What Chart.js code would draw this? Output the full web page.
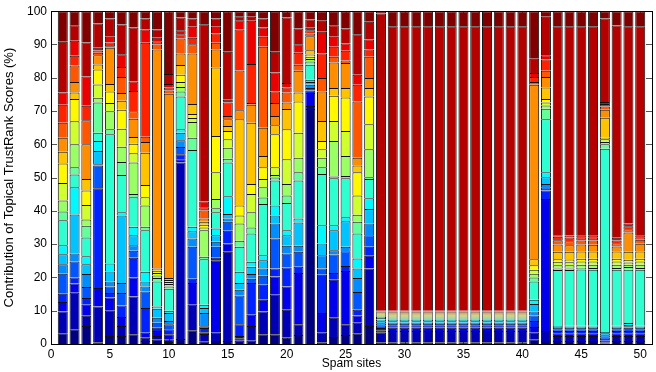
<!DOCTYPE html>
<html>
<head>
<meta charset="utf-8">
<script src="https://cdn.jsdelivr.net/npm/chart.js@4.4.1/dist/chart.umd.min.js"></script>
<style>
  html, body { margin: 0; padding: 0; background: #fff; }
  #wrap { width: 656px; height: 372px; }
</style>
</head>
<body>
<div id="wrap"><canvas id="topicChart" width="656" height="372"></canvas></div>
<script>
// Share (%) of each spam site's Topical TrustRank score coming from each of 20 topics,
// bottom topic first.
const site01 = [3.2, 6.6, 2.8, 2.5, 6.0, 2.9, 3.0, 2.7, 7.5, 2.6, 3.3, 5.3, 5.8, 3.6, 4.2, 4.5, 5.4, 3.7, 15.2, 9.2];
const site02 = [4.4, 11.0, 2.8, 1.8, 4.8, 2.4, 11.7, 8.2, 3.8, 2.2, 6.9, 6.9, 6.7, 2.0, 3.1, 5.0, 2.9, 4.5, 4.7, 4.2];
const site03 = [5.4, 3.1, 3.3, 2.0, 3.3, 3.9, 3.0, 2.4, 5.6, 3.5, 1.9, 4.4, 4.3, 3.5, 10.4, 7.2, 4.4, 8.8, 10.2, 9.4];
const site04 = [0.5, 10.8, 5.5, 30.0, 6.8, 0.4, 4.0, 3.0, 2.5, 9.1, 1.4, 4.0, 4.5, 1.5, 2.8, 0.7, 0.7, 0.8, 7.3, 3.7];
const site05 = [2.4, 7.6, 4.0, 1.3, 2.0, 1.5, 3.0, 2.4, 38.8, 1.5, 5.4, 2.5, 3.5, 2.2, 10.9, 0.5, 1.1, 1.7, 5.5, 2.2];
const site06 = [2.4, 3.0, 2.7, 3.5, 3.7, 3.0, 20.3, 1.0, 11.2, 3.9, 4.6, 5.4, 5.7, 2.7, 2.3, 4.8, 3.0, 3.9, 8.9, 4.0];
const site07 = [2.9, 11.4, 5.7, 5.9, 2.1, 1.7, 3.0, 2.5, 8.9, 1.0, 9.4, 2.8, 2.9, 2.0, 5.5, 2.2, 6.1, 2.9, 16.2, 4.9];
const site08 = [0.9, 1.0, 1.5, 7.4, 5.0, 1.5, 1.5, 2.9, 12.5, 1.0, 6.4, 2.5, 3.7, 9.7, 3.2, 1.6, 28.2, 4.0, 3.3, 2.2];
const site09 = [1.4, 1.0, 1.5, 1.0, 1.5, 1.5, 2.7, 0.7, 7.5, 1.0, 0.8, 0.7, 0.7, 0.7, 65.8, 1.5, 1.0, 1.0, 2.5, 5.5];
const site10 = [0.6, 0.8, 1.5, 1.5, 1.5, 1.0, 2.4, 0.7, 6.6, 0.7, 0.7, 0.6, 0.6, 0.6, 55.4, 1.0, 0.9, 1.0, 3.0, 18.9];
const site11 = [1.5, 53.0, 1.0, 1.5, 2.2, 2.0, 2.3, 1.0, 9.9, 1.5, 1.3, 1.5, 2.2, 2.9, 3.5, 4.5, 1.3, 1.2, 3.8, 1.9];
const site12 = [4.1, 7.7, 6.5, 1.3, 9.6, 2.5, 2.2, 1.3, 23.1, 3.7, 4.7, 1.2, 1.2, 3.0, 15.2, 2.8, 1.9, 3.3, 2.5, 2.2];
const site13 = [0.8, 2.2, 0.5, 1.3, 0.5, 4.0, 1.5, 1.0, 13.7, 0.7, 8.0, 0.8, 0.8, 0.9, 1.0, 2.4, 1.0, 1.7, 53.3, 3.9];
const site14 = [0.9, 2.5, 21.8, 0.7, 3.3, 1.5, 2.0, 2.0, 4.9, 1.2, 2.8, 8.0, 10.9, 20.6, 5.4, 2.0, 2.8, 2.0, 2.5, 2.2];
const site15 = [0.9, 26.8, 2.5, 3.8, 2.7, 1.0, 1.4, 5.3, 10.1, 1.2, 3.3, 2.5, 2.5, 1.5, 2.0, 1.0, 4.1, 0.8, 14.4, 12.2];
const site16 = [1.0, 0.7, 0.7, 3.5, 8.7, 1.7, 2.0, 3.4, 7.5, 1.8, 5.2, 2.4, 3.0, 25.9, 2.7, 12.0, 12.3, 2.8, 1.2, 1.5];
const site17 = [1.0, 4.4, 3.4, 9.5, 1.3, 1.4, 2.2, 1.5, 8.5, 1.8, 4.6, 5.5, 3.0, 18.4, 5.4, 0.5, 11.7, 13.0, 1.2, 1.7];
const site18 = [2.9, 6.9, 3.5, 4.5, 2.7, 2.2, 2.5, 1.5, 15.4, 1.9, 3.1, 2.5, 3.5, 3.4, 8.5, 24.3, 3.0, 2.8, 2.7, 2.2];
const site19 = [2.9, 11.9, 5.5, 2.4, 9.0, 4.5, 2.4, 3.0, 7.5, 0.9, 0.8, 2.3, 9.9, 2.7, 2.8, 3.9, 3.5, 5.7, 6.2, 12.2];
const site20 = [1.9, 8.4, 7.0, 5.7, 4.2, 2.3, 3.2, 1.5, 8.2, 2.2, 3.5, 7.4, 9.0, 6.1, 2.0, 3.0, 1.5, 1.3, 19.7, 1.9];
const site21 = [2.7, 3.2, 15.4, 1.9, 4.5, 1.8, 7.0, 1.2, 11.4, 2.5, 4.4, 7.5, 9.4, 2.7, 6.5, 1.8, 3.6, 2.6, 4.7, 5.2];
const site22 = [70.6, 0.9, 3.9, 0.8, 0.7, 1.0, 0.8, 0.7, 4.5, 1.0, 0.7, 0.7, 0.7, 1.3, 4.2, 0.8, 1.0, 0.7, 2.5, 2.5];
const site23 = [0.5, 2.9, 5.9, 11.5, 1.9, 4.0, 3.5, 5.5, 15.4, 2.0, 2.9, 2.5, 2.5, 6.0, 8.9, 4.0, 7.4, 6.5, 3.3, 2.9];
const site24 = [2.1, 5.8, 11.4, 2.0, 5.6, 1.3, 6.0, 1.5, 14.1, 0.5, 10.7, 6.0, 7.6, 2.3, 7.7, 1.7, 3.0, 3.0, 3.5, 4.2];
const site25 = [2.7, 3.2, 16.0, 1.5, 4.5, 1.3, 7.7, 1.2, 11.7, 0.7, 6.0, 7.5, 10.1, 2.8, 7.5, 0.8, 2.9, 2.2, 4.5, 5.2];
const site26 = [3.1, 3.3, 2.2, 1.7, 5.3, 4.2, 2.9, 3.0, 7.5, 3.5, 2.1, 5.8, 7.0, 2.0, 2.4, 16.9, 5.0, 3.0, 12.2, 6.9];
const site27 = [5.4, 17.3, 3.8, 2.7, 3.5, 3.5, 4.4, 3.2, 5.8, 0.5, 8.4, 7.5, 8.4, 2.5, 3.0, 6.4, 2.2, 3.0, 5.3, 3.2];
const site28 = [0.5, 3.0, 0.6, 0.7, 0.8, 0.6, 0.6, 0.5, 0.5, 0.4, 0.3, 0.3, 0.3, 0.3, 0.2, 0.2, 0.1, 0.1, 89.3, 0.7];
const site29 = [0.5, 3.4, 1.0, 0.7, 0.4, 0.4, 0.4, 0.5, 0.3, 0.3, 0.3, 0.3, 0.3, 0.3, 0.3, 0.2, 0.2, 0.2, 85.5, 4.5];
const site30 = [0.5, 3.4, 1.0, 0.7, 0.4, 0.4, 0.4, 0.5, 0.3, 0.3, 0.3, 0.3, 0.3, 0.3, 0.3, 0.2, 0.2, 0.2, 85.5, 4.5];
const site31 = [0.5, 3.4, 1.0, 0.7, 0.4, 0.4, 0.4, 0.5, 0.3, 0.3, 0.3, 0.3, 0.3, 0.3, 0.3, 0.2, 0.2, 0.2, 85.5, 4.5];
const site32 = [0.5, 3.4, 1.0, 0.7, 0.4, 0.4, 0.4, 0.5, 0.3, 0.3, 0.3, 0.3, 0.3, 0.3, 0.3, 0.2, 0.2, 0.2, 85.5, 4.5];
const site33 = [0.5, 3.4, 1.0, 0.7, 0.4, 0.4, 0.4, 0.5, 0.3, 0.3, 0.3, 0.3, 0.3, 0.3, 0.3, 0.2, 0.2, 0.2, 85.5, 4.5];
const site34 = [0.5, 3.4, 1.0, 0.7, 0.4, 0.4, 0.4, 0.5, 0.3, 0.3, 0.3, 0.3, 0.3, 0.3, 0.3, 0.2, 0.2, 0.2, 85.5, 4.5];
const site35 = [0.5, 3.4, 1.0, 0.7, 0.4, 0.4, 0.4, 0.5, 0.3, 0.3, 0.3, 0.3, 0.3, 0.3, 0.3, 0.2, 0.2, 0.2, 85.5, 4.5];
const site36 = [0.5, 3.4, 1.0, 0.7, 0.4, 0.4, 0.4, 0.5, 0.3, 0.3, 0.3, 0.3, 0.3, 0.3, 0.3, 0.2, 0.2, 0.2, 85.5, 4.5];
const site37 = [0.5, 3.4, 1.0, 0.7, 0.4, 0.4, 0.4, 0.5, 0.3, 0.3, 0.3, 0.3, 0.3, 0.3, 0.3, 0.2, 0.2, 0.2, 85.5, 4.5];
const site38 = [0.5, 3.4, 1.0, 0.7, 0.4, 0.4, 0.4, 0.5, 0.3, 0.3, 0.3, 0.3, 0.3, 0.3, 0.3, 0.2, 0.2, 0.2, 85.5, 4.5];
const site39 = [0.5, 3.4, 1.0, 0.7, 0.4, 0.4, 0.4, 0.5, 0.3, 0.3, 0.3, 0.3, 0.3, 0.3, 0.3, 0.2, 0.2, 0.2, 85.5, 4.5];
const site40 = [0.5, 3.4, 1.0, 0.7, 0.4, 0.4, 0.4, 0.5, 0.3, 0.3, 0.3, 0.3, 0.3, 0.3, 0.3, 0.2, 0.2, 0.2, 85.5, 4.5];
const site41 = [1.4, 2.0, 1.7, 1.8, 1.7, 1.2, 2.2, 1.3, 5.5, 1.2, 1.1, 1.2, 1.4, 1.8, 52.4, 0.8, 1.5, 1.2, 4.3, 14.3];
const site42 = [0.9, 3.0, 39.7, 2.5, 1.0, 1.0, 2.0, 1.5, 15.9, 3.2, 1.0, 0.9, 1.0, 3.5, 3.1, 1.9, 3.4, 1.3, 11.5, 1.7];
const site43 = [0.9, 1.5, 0.8, 0.7, 0.5, 0.4, 0.3, 0.3, 16.8, 0.5, 1.0, 1.0, 0.8, 2.2, 2.2, 1.3, 1.0, 0.5, 62.8, 4.5];
const site44 = [0.9, 1.5, 0.8, 0.7, 0.5, 0.4, 0.4, 0.3, 16.7, 0.5, 1.0, 0.9, 0.8, 2.3, 2.0, 1.2, 1.1, 0.6, 62.9, 4.5];
const site45 = [0.9, 1.5, 0.8, 0.7, 0.5, 0.4, 0.4, 0.3, 16.9, 0.5, 0.9, 1.0, 0.8, 2.2, 2.1, 1.2, 1.0, 0.6, 62.8, 4.5];
const site46 = [0.9, 1.5, 0.8, 0.7, 0.5, 0.4, 0.4, 0.3, 16.8, 0.5, 1.0, 1.0, 0.8, 2.2, 2.0, 1.3, 1.0, 0.6, 62.8, 4.5];
const site47 = [0.2, 0.3, 0.5, 0.5, 0.5, 0.6, 0.6, 0.4, 55.1, 1.3, 0.7, 0.8, 0.5, 6.0, 2.4, 1.0, 0.7, 0.6, 25.1, 2.2];
const site48 = [0.9, 1.5, 0.8, 0.7, 0.5, 0.4, 0.4, 0.3, 16.8, 0.5, 1.0, 1.0, 0.8, 2.2, 1.5, 1.0, 0.8, 0.8, 63.8, 4.3];
const site49 = [0.9, 1.5, 0.8, 0.7, 1.0, 0.4, 0.4, 0.6, 16.0, 0.8, 0.7, 0.7, 0.8, 2.4, 5.8, 1.0, 0.9, 0.8, 59.3, 4.5];
const site50 = [0.9, 1.5, 0.8, 0.7, 0.5, 0.4, 0.4, 0.3, 16.8, 0.5, 1.0, 1.0, 0.8, 2.2, 2.3, 1.2, 0.8, 0.6, 62.8, 4.5];

const sites = [
  site01, site02, site03, site04, site05, site06, site07, site08, site09, site10,
  site11, site12, site13, site14, site15, site16, site17, site18, site19, site20,
  site21, site22, site23, site24, site25, site26, site27, site28, site29, site30,
  site31, site32, site33, site34, site35, site36, site37, site38, site39, site40,
  site41, site42, site43, site44, site45, site46, site47, site48, site49, site50
];

// jet colormap sampled at 20 steps (topic 1 = navy ... topic 20 = dark red)
const JET_20 = [
  'rgb(0,0,128)', 'rgb(0,0,181)', 'rgb(0,0,235)', 'rgb(0,34,255)', 'rgb(0,87,255)',
  'rgb(0,141,255)', 'rgb(0,195,255)', 'rgb(0,248,255)', 'rgb(47,255,208)', 'rgb(101,255,154)',
  'rgb(154,255,101)', 'rgb(208,255,47)', 'rgb(255,248,0)', 'rgb(255,195,0)', 'rgb(255,141,0)',
  'rgb(255,87,0)', 'rgb(255,34,0)', 'rgb(235,0,0)', 'rgb(181,0,0)', 'rgb(128,0,0)'
];

const FONT = { family: "'Liberation Sans', Arial, Helvetica, sans-serif", size: 12 };

// matlab-ish box with inward ticks on all four sides
const boxAxes = {
  id: 'boxAxes',
  beforeDatasetsDraw(chart) {
    const { ctx, chartArea: a, scales: { x, y } } = chart;
    ctx.save();
    ctx.strokeStyle = '#555';
    ctx.lineWidth = 1;
    ctx.beginPath();
    y.ticks.forEach(t => {
      const py = Math.round(y.getPixelForValue(t.value)) + 0.5;
      ctx.moveTo(a.left, py); ctx.lineTo(a.left + 6, py);
      ctx.moveTo(a.right, py); ctx.lineTo(a.right - 6, py);
    });
    x.ticks.forEach(t => {
      const px = Math.round(x.getPixelForValue(t.value)) + 0.5;
      ctx.moveTo(px, a.bottom); ctx.lineTo(px, a.bottom - 6);
      ctx.moveTo(px, a.top); ctx.lineTo(px, a.top + 6);
    });
    ctx.stroke();
    ctx.restore();
  },
  afterDatasetsDraw(chart) {
    const { ctx, chartArea: a } = chart;
    ctx.save();
    ctx.strokeStyle = '#000';
    ctx.lineWidth = 1;
    ctx.strokeRect(Math.round(a.left) + 0.5, Math.round(a.top) + 0.5,
      Math.round(a.right - a.left), Math.round(a.bottom - a.top));
    ctx.restore();
  }
};

const datasets = JET_20.map((color, t) => ({
  label: 'Topic ' + (t + 1),
  data: sites.map((s, i) => ({ x: i + 1, y: s[t] })),
  backgroundColor: color,
  borderColor: '#111',
  borderWidth: { top: 1, left: 1, right: 1, bottom: 0 },
  borderSkipped: 'start',
  barPercentage: 0.85,
  categoryPercentage: 1
}));

new Chart(document.getElementById('topicChart'), {
  type: 'bar',
  data: { datasets },
  options: {
    responsive: false,
    animation: false,
    devicePixelRatio: 1,
    layout: { padding: { top: 7, right: 4, left: 0, bottom: 0 } },
    plugins: {
      legend: { display: false },
      tooltip: { enabled: false }
    },
    scales: {
      x: {
        type: 'linear',
        stacked: true,
        offset: false,
        min: 0,
        max: 51,
        grid: { display: false, drawTicks: false, offset: false },
        border: { display: false },
        ticks: { stepSize: 5, includeBounds: false, color: '#000', font: FONT, padding: 3, maxRotation: 0 },
        title: { display: true, text: 'Spam sites', color: '#000', font: FONT, padding: { top: 0, bottom: 1 } },
        afterFit(scale) { scale.height = 28; }
      },
      y: {
        stacked: true,
        min: 0,
        max: 100,
        grid: { display: false, drawTicks: false },
        border: { display: false },
        ticks: { stepSize: 10, color: '#000', font: FONT, padding: 4 },
        title: {
          display: true,
          text: 'Contribution of Topical TrustRank Scores (%)',
          color: '#000',
          font: { family: FONT.family, size: 13 },
          padding: { top: 2, bottom: 0 }
        },
        afterFit(scale) { scale.width = 51; }
      }
    }
  },
  plugins: [boxAxes]
});
</script>
</body>
</html>
